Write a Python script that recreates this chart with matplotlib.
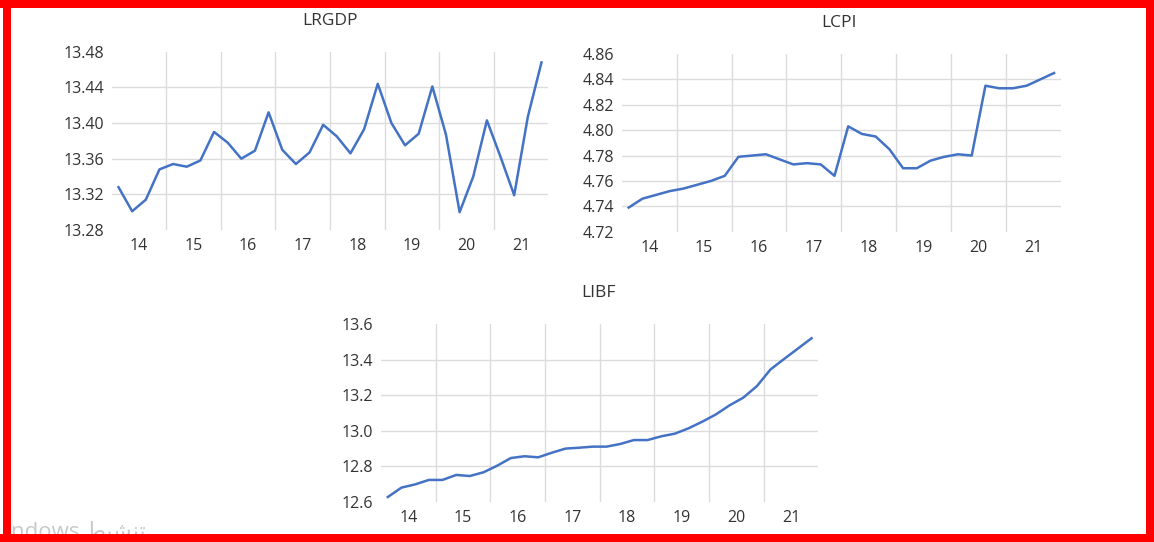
import numpy as np
import matplotlib.pyplot as plt
from matplotlib.patches import Rectangle

plt.rcParams['font.family'] = ['Open Sans', 'DejaVu Sans']

# quarterly series, 2014Q1 .. 2021Q4
years = ['14', '15', '16', '17', '18', '19', '20', '21']

lrgdp = [13.328, 13.301, 13.314, 13.348, 13.354, 13.351, 13.358, 13.390,
         13.378, 13.360, 13.369, 13.412, 13.370, 13.354, 13.367, 13.398,
         13.385, 13.366, 13.393, 13.444, 13.400, 13.375, 13.388, 13.441,
         13.387, 13.300, 13.340, 13.403, 13.362, 13.319, 13.407, 13.468]

lcpi = [4.739, 4.746, 4.749, 4.752, 4.754, 4.757, 4.760, 4.764,
        4.779, 4.780, 4.781, 4.777, 4.773, 4.774, 4.773, 4.764,
        4.803, 4.797, 4.795, 4.785, 4.770, 4.770, 4.776, 4.779,
        4.781, 4.780, 4.835, 4.833, 4.833, 4.835, 4.840, 4.845]

libf = [12.628, 12.681, 12.699, 12.724, 12.724, 12.752, 12.746, 12.767,
        12.804, 12.847, 12.857, 12.851, 12.877, 12.900, 12.905, 12.911,
        12.911, 12.926, 12.948, 12.948, 12.969, 12.984, 13.014, 13.051,
        13.092, 13.143, 13.186, 13.251, 13.345, 13.404, 13.462, 13.520]

lrgdp_ticks = [13.28, 13.32, 13.36, 13.40, 13.44, 13.48]
lcpi_ticks = [4.72, 4.74, 4.76, 4.78, 4.80, 4.82, 4.84, 4.86]
libf_ticks = [12.6, 12.8, 13.0, 13.2, 13.4, 13.6]

W, H = 1154, 542
fig = plt.figure(figsize=(W / 100, H / 100), dpi=100)
fig.patch.set_facecolor('white')

GRID = '#dcdcdc'
TEXT = '#333333'
BLUE = '#4472C4'


def px_axes(left, top, right, bottom):
    return fig.add_axes([left / W, 1 - bottom / H, (right - left) / W, (bottom - top) / H])


def draw_panel(ax, values, yticks, fmt):
    n = len(values)
    x = np.arange(n) + 0.5
    ax.set_xlim(0, n)
    ax.set_ylim(yticks[0], yticks[-1])
    for b in range(4, n, 4):
        ax.axvline(b, color=GRID, lw=1, zorder=0)
    for t in yticks[1:-1]:
        ax.axhline(t, color=GRID, lw=1, zorder=0)
    ax.plot(x, values, color=BLUE, lw=1.8, solid_joinstyle='round', zorder=2)
    ax.set_xticks(np.arange(len(years)) * 4 + 2, years)
    ax.set_yticks(yticks, [fmt.format(t) for t in yticks])
    ax.tick_params(axis='both', length=0, labelsize=11.5, colors=TEXT)
    ax.tick_params(axis='y', pad=5.5)
    ax.tick_params(axis='x', pad=6)
    for s in ax.spines.values():
        s.set_visible(False)


ax1 = px_axes(111.7, 51.7, 548.3, 230)
draw_panel(ax1, lrgdp, lrgdp_ticks, '{:.2f}')
fig.text(330 / W, 1 - 21 / H, 'LRGDP', ha='center', va='center', fontsize=12.5, color=TEXT)

ax2 = px_axes(621.8, 54, 1060.9, 231.7)
draw_panel(ax2, lcpi, lcpi_ticks, '{:.2f}')
fig.text(839 / W, 1 - 23 / H, 'LCPI', ha='center', va='center', fontsize=12.5, color=TEXT)

ax3 = px_axes(381, 324, 818.4, 502)
draw_panel(ax3, libf, libf_ticks, '{:.1f}')
fig.text(598 / W, 1 - 293 / H, 'LIBF', ha='center', va='center', fontsize=12.5, color=TEXT)

# faded system watermark in the lower-left corner, partly under the frame
fig.text(11 / W, 1 - 538 / H, 'ndows \uFEC2\uFEF4\uFEB8\uFEE8\uFE97', ha='left', va='baseline',
         fontsize=16, color='#c8c8c8', zorder=1)

# red frame around the whole image
for (x0, y0, w, h) in [(0, 0, W, 8), (0, 534, W, 8), (3, 0, 8, H), (1146, 0, 8, H)]:
    fig.patches.append(Rectangle((x0 / W, 1 - (y0 + h) / H), w / W, h / H,
                                 transform=fig.transFigure, facecolor='#ff0000',
                                 edgecolor='none', zorder=10))

fig.savefig('out.png', dpi=100)
